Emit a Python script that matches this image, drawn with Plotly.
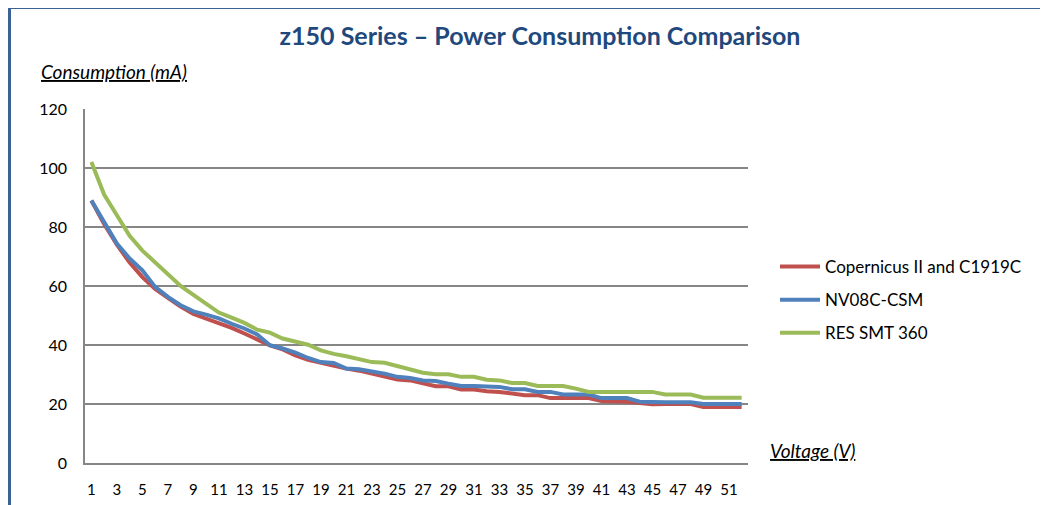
import plotly.graph_objects as go

voltage = list(range(1, 53))

copernicus = [89, 81, 74, 68, 63, 59, 56, 53, 50.5, 49, 47.5, 45.8, 43.9, 41.8, 39.9, 38.5, 36.5, 35, 33.9, 33.1,
              32, 31.3, 30.3, 29.4, 28.3, 28, 27.1, 26, 26, 24.9, 24.9, 24.3, 24.1, 23.7, 23, 23, 22, 22, 22, 22,
              21, 21, 20.8, 20.3, 19.9, 20, 20, 20, 19, 19, 19, 19]
nv08c = [89, 81.7, 74.4, 69.3, 65.3, 59.7, 56.3, 53.5, 51.4, 50.3, 49, 47.2, 45.6, 43.6, 39.9, 38.8, 37.4, 35.6, 34.2, 33.9,
         32, 31.8, 31.2, 30.3, 29.2, 28.8, 28, 27.8, 26.9, 26.1, 26.1, 26, 25.8, 25, 25, 24.1, 24.1, 23.2, 23.2, 23.2,
         22, 22, 22, 20.8, 20.6, 20.6, 20.6, 20.6, 20, 20, 20, 20]
res_smt = [102, 91, 84, 77, 72, 68, 64, 60, 57, 54, 51, 49.3, 47.5, 45.2, 44.2, 42.2, 41.2, 40.1, 38.2, 37,
           36.2, 35.2, 34.2, 34, 32.9, 31.7, 30.6, 30.1, 30.1, 29.2, 29.2, 28.2, 28, 27.1, 27.1, 26.1, 26.1, 26.1, 25.2, 24.1,
           24.1, 24.1, 24.1, 24.1, 24.1, 23.2, 23.2, 23.2, 22.1, 22.1, 22.1, 22.1]

series_names = ["Copernicus II and C1919C", "NV08C-CSM", "RES SMT 360"]
series_values = [copernicus, nv08c, res_smt]
series_colors = ["#C0504D", "#4F81BD", "#9BBB59"]

x_tick_vals = list(range(1, 53, 2))
y_tick_vals = [0, 20, 40, 60, 80, 100, 120]

# page body has an 8px margin; work in screen pixels and shift
OFF = 8
W, H = 1040, 497
# plot area on screen: x 85..748, y 109..463
SX0, SX1, SY0, SY1 = 85, 748, 109, 463
pw = SX1 - SX0
ph = SY1 - SY0
L = SX0 - OFF
T = SY0 - OFF
R = W - L - pw
B = H - T - ph

def px2x(px):
    return (px - SX0) / pw

def py2y(py):
    return 1 - (py - SY0) / ph

fig = go.Figure()
for name, vals, col in zip(series_names, series_values, series_colors):
    fig.add_trace(go.Scatter(x=voltage, y=vals, mode="lines", name=name, legendgroup=name,
                             line=dict(color=col, width=4)))

fontfam = "Lato, 'Open Sans', sans-serif"

fig.update_layout(
    width=W, height=H,
    margin=dict(l=L, r=R, t=T, b=B, autoexpand=False),
    paper_bgcolor="white", plot_bgcolor="white",
    font=dict(family=fontfam, size=15, color="black"),
    title=dict(text="<b>z150 Series – Power Consumption Comparison</b>", x=(540 - OFF) / W, xanchor="center",
               y=1 - (36 - OFF) / H, yanchor="middle", font=dict(size=25, color="#1F497D", family=fontfam)),
    showlegend=True,
    legend=dict(x=px2x(775), y=py2y(249), xanchor="left", yanchor="top",
                traceorder="grouped", tracegroupgap=8, font=dict(size=17, color="black"),
                bgcolor="rgba(0,0,0,0)", itemwidth=40),
    xaxis=dict(range=[0.5, 52.5], tickmode="array", tickvals=x_tick_vals, ticktext=[str(v) for v in x_tick_vals],
               showgrid=False, zeroline=False, showline=True, linecolor="#868686", linewidth=1.5,
               ticks="", ticklabelstandoff=12, tickfont=dict(size=15), automargin=False),
    yaxis=dict(range=[0, 120], tickmode="array", tickvals=y_tick_vals, showgrid=True, gridcolor="#868686",
               gridwidth=1.5, zeroline=False, showline=True, linecolor="#868686", linewidth=1.5,
               ticks="", ticklabelstandoff=13, tickfont=dict(size=16), automargin=False),
    annotations=[
        dict(text="<i><u>Consumption (mA)</u></i>", xref="paper", yref="paper", x=px2x(39), y=py2y(72),
             xanchor="left", yanchor="middle", showarrow=False, font=dict(size=19, family=fontfam)),
        dict(text="<i><u>Voltage (V)</u></i>", xref="paper", yref="paper", x=px2x(768), y=py2y(450),
             xanchor="left", yanchor="middle", showarrow=False, font=dict(size=19, family=fontfam)),
    ],
    shapes=[
        dict(type="rect", xref="paper", yref="paper", x0=px2x(9), y0=py2y(540), x1=px2x(1090), y1=py2y(7),
             line=dict(color="#3A6394", width=4), fillcolor="rgba(0,0,0,0)", layer="below"),
    ],
)

fig.write_html("out.html")
